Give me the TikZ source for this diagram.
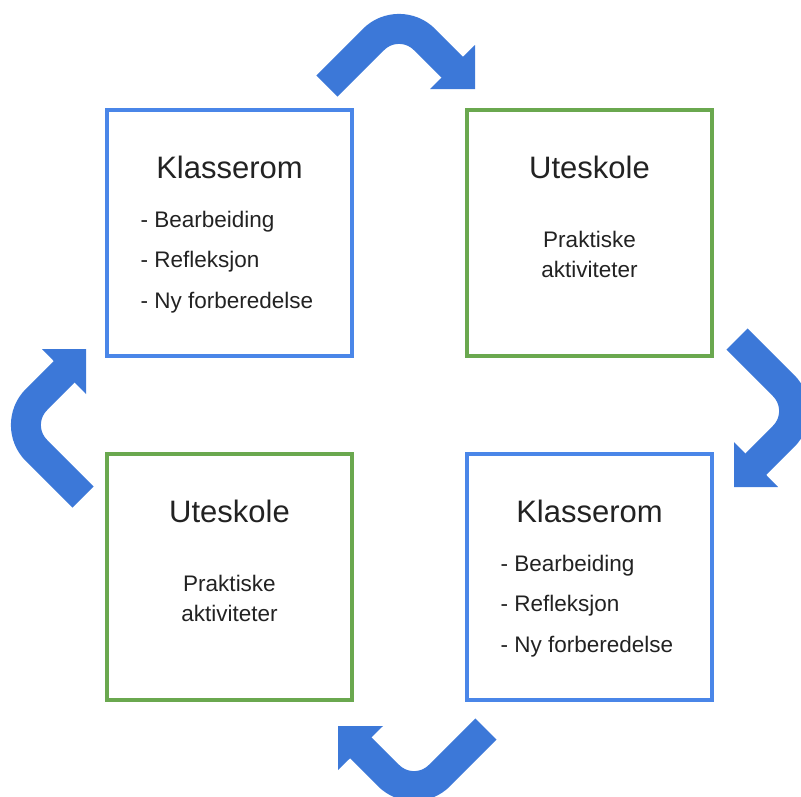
\documentclass[tikz,border=0pt]{standalone}
\usepackage{fontspec}
\setmainfont{Liberation Sans}
\usetikzlibrary{positioning}
\definecolor{azul}{HTML}{4A86E8}
\definecolor{azulosc}{HTML}{3C78D8}
\definecolor{verde}{HTML}{6AA84F}
\definecolor{texto}{HTML}{222222}

\begin{document}
\begin{tikzpicture}[x=1pt,y=1pt]
\useasboundingbox (0,0) rectangle (801,-796);
% estilos de cajas y textos
\tikzstyle{caja} = [draw, line width=3.5pt, minimum width=245pt, minimum height=246pt, inner sep=0pt]
\tikzstyle{cajaazul} = [caja, draw=azul]
\tikzstyle{cajaverde} = [caja, draw=verde]
\tikzstyle{titulo} = [anchor=base, inner sep=0pt, text=texto, font=\fontsize{31}{37}\selectfont]
\tikzstyle{lista} = [anchor=base west, inner sep=0pt, text=texto, font=\fontsize{22.5}{27}\selectfont]
\tikzstyle{nota} = [anchor=base, inner sep=0pt, text=texto, font=\fontsize{22.5}{27}\selectfont]
\tikzstyle{flecha} = [draw=azulosc, line width=30pt, rounded corners=36pt]
% definicion flecha curva
% #1: centro de la flecha
% #2: angulo de rotacion
\newcommand{\flechacur}[2]{
\coordinate (O) at #1;
\begin{scope}[rotate around={#2:(O)}]
\draw [flecha] (O) ++(-69,-31) -- ++(72,72) -- ++(57,-57);
\fill [azulosc] (O) ++(79,10) -- ++(0,-44) -- ++(-45,0) -- cycle;
\end{scope}
}
% dibujar cajas
\node[cajaazul] (kl1) at (229.5,-233) {};
\node[cajaverde] (ute1) at (589.5,-233) {};
\node[cajaverde] (ute2) at (229.5,-577) {};
\node[cajaazul] (kl2) at (589.5,-577) {};
% textos de las cajas
\node[titulo] (tkl1) at ([shift={(0,54.5)}]kl1.center) {Klasserom};
\node[lista] (b1) at ([shift={(-89,6)}]kl1.center) {- Bearbeiding};
\node[lista] (r1) at ([shift={(-89,-34)}]kl1.center) {- Refleksjon};
\node[lista] (n1) at ([shift={(-89,-75)}]kl1.center) {- Ny forberedelse};
\node[titulo] (tute1) at ([shift={(0,54.5)}]ute1.center) {Uteskole};
\node[nota] (p1) at ([shift={(0,-14)}]ute1.center) {Praktiske};
\node[nota] (a1) at ([shift={(0,-44)}]ute1.center) {aktiviteter};
\node[titulo] (tute2) at ([shift={(0,54.5)}]ute2.center) {Uteskole};
\node[nota] (p2) at ([shift={(0,-14)}]ute2.center) {Praktiske};
\node[nota] (a2) at ([shift={(0,-44)}]ute2.center) {aktiviteter};
\node[titulo] (tkl2) at ([shift={(0,54.5)}]kl2.center) {Klasserom};
\node[lista] (b2) at ([shift={(-89,6)}]kl2.center) {- Bearbeiding};
\node[lista] (r2) at ([shift={(-89,-34)}]kl2.center) {- Refleksjon};
\node[lista] (n2) at ([shift={(-89,-75)}]kl2.center) {- Ny forberedelse};
% dibujar flechas
\flechacur{(396,-55)}{0}
\flechacur{(768,-408)}{-90}
\flechacur{(417,-760)}{180}
\flechacur{(52,-428)}{90}
\end{tikzpicture}
\end{document}
